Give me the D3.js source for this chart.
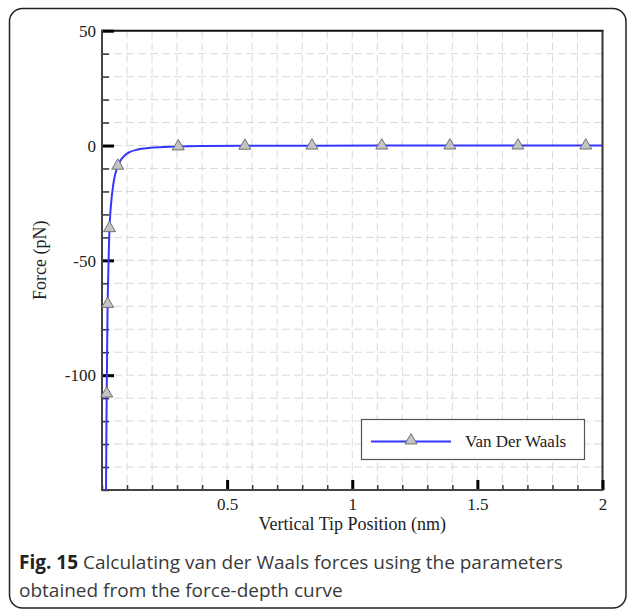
<!DOCTYPE html>
<html>
<head>
<meta charset="utf-8">
<script src="https://cdn.jsdelivr.net/npm/d3@7/dist/d3.min.js"></script>
<style>
  html, body { margin: 0; padding: 0; background: #fff; }
  svg { display: block; }
</style>
</head>
<body>
<script>
// Van der Waals force versus vertical tip position
const curveX = [0.0160, 0.0172, 0.0180, 0.0188, 0.0205, 0.0225, 0.0250, 0.0275, 0.0300, 0.0330,
                0.0370, 0.0420, 0.0480, 0.0550, 0.0630, 0.0750, 0.0900, 0.1100, 0.1400, 0.1700,
                0.2100, 0.2500, 0.3050, 0.4000, 0.5710, 0.8390, 1.1180, 1.3900, 1.6620, 1.9330, 2.0000];
const curveF = [-150, -132, -119, -108, -89, -69, -56, -45, -36, -30,
                -24.5, -19.5, -15, -11.6, -8.8, -6.3, -4.4, -2.9, -1.8, -1.25,
                -0.85, -0.6, -0.4, -0.22, -0.1, -0.05, -0.03, -0.02, -0.01, -0.01, -0.01];

// points carrying a triangle symbol
const markerX = [0.0188, 0.0225, 0.0300, 0.0630, 0.3050, 0.5710, 0.8390, 1.1180, 1.3900, 1.6620, 1.9330];
const markerF = [-108, -69, -36, -8.8, -0.4, -0.1, -0.05, -0.03, -0.02, -0.01, -0.01];

const xDomain = [0, 2];
const yDomain = [-150, 50];
const xMajorTicks = [0.5, 1, 1.5, 2];
const yMajorTicks = [50, 0, -50, -100];

const seriesName = "Van Der Waals";
const xTitle = "Vertical Tip Position (nm)";
const yTitle = "Force (pN)";
const captionBold = "Fig. 15";
const captionLines = ["Calculating van der Waals forces using the parameters",
                      "obtained from the force-depth curve"];

const W = 627, H = 609;
const plot = { left: 102, right: 602.5, top: 30.7, bottom: 490 };
const serif = "'Liberation Serif', 'Times New Roman', serif";

const svg = d3.select("body").append("svg")
  .attr("width", W).attr("height", H);

// outer rounded frame
svg.append("rect")
  .attr("x", 9.5).attr("y", 8.5)
  .attr("width", 626 - 9.5).attr("height", 608 - 8.5)
  .attr("rx", 13).attr("ry", 13)
  .attr("fill", "none").attr("stroke", "#222").attr("stroke-width", 1.5);

const x = d3.scaleLinear().domain(xDomain).range([plot.left, plot.right]);
const y = d3.scaleLinear().domain(yDomain).range([plot.bottom, plot.top]);

// dashed grid on every minor step
const grid = svg.append("g").attr("stroke", "#d9d9d9").attr("stroke-width", 1)
  .attr("stroke-dasharray", "8,4");
grid.selectAll("line.vx").data(x.ticks(20).filter(v => v > xDomain[0] && v < xDomain[1]))
  .join("line")
  .attr("x1", d => x(d)).attr("x2", d => x(d))
  .attr("y1", plot.top).attr("y2", plot.bottom);
grid.selectAll("line.hy").data(y.ticks(20).filter(v => v > yDomain[0] && v < yDomain[1]))
  .join("line")
  .attr("y1", d => y(d)).attr("y2", d => y(d))
  .attr("x1", plot.left).attr("x2", plot.right);

// plot border: top and right
svg.append("line").attr("x1", plot.left).attr("x2", plot.right + 1)
  .attr("y1", plot.top).attr("y2", plot.top)
  .attr("stroke", "#111").attr("stroke-width", 2);
svg.append("line").attr("x1", plot.right).attr("x2", plot.right)
  .attr("y1", plot.top).attr("y2", plot.bottom)
  .attr("stroke", "#333").attr("stroke-width", 2);

// minor ticks (inside)
const yMinor = svg.append("g").attr("transform", `translate(${plot.left},0)`)
  .call(d3.axisLeft(y).tickValues(y.ticks(20)).tickSize(-7).tickFormat(""));
yMinor.select(".domain").remove();
yMinor.selectAll(".tick line").attr("stroke", "#333").attr("stroke-width", 1.5);

const xMinor = svg.append("g").attr("transform", `translate(0,${plot.bottom})`)
  .call(d3.axisBottom(x).tickValues(x.ticks(20)).tickSize(-5).tickFormat(""));
xMinor.select(".domain").remove();
xMinor.selectAll(".tick line").attr("stroke", "#333").attr("stroke-width", 1.5);

// major ticks with labels
const yAxis = svg.append("g").attr("transform", `translate(${plot.left},0)`)
  .call(d3.axisLeft(y).tickValues(yMajorTicks).tickSize(-12).tickPadding(18)
    .tickFormat(d => String(d)));
yAxis.select(".domain").remove();
yAxis.selectAll(".tick line").attr("stroke", "#000").attr("stroke-width", 3);
yAxis.selectAll(".tick text")
  .attr("font-family", serif)
  .attr("font-size", 17).attr("fill", "#222")
  .attr("x", -6).attr("dy", "0.34em");

const xAxis = svg.append("g").attr("transform", `translate(0,${plot.bottom})`)
  .call(d3.axisBottom(x).tickValues(xMajorTicks).tickSize(-10).tickPadding(6)
    .tickFormat(d => String(d)));
xAxis.select(".domain").remove();
xAxis.selectAll(".tick line").attr("stroke", "#000").attr("stroke-width", 3);
xAxis.selectAll(".tick text")
  .attr("font-family", serif)
  .attr("font-size", 17).attr("fill", "#222")
  .attr("y", 8).attr("dy", "0.71em");

// left and bottom axis lines
svg.append("line").attr("x1", plot.left).attr("x2", plot.left)
  .attr("y1", plot.top - 1).attr("y2", plot.bottom + 1)
  .attr("stroke", "#444").attr("stroke-width", 2);
svg.append("line").attr("x1", plot.left - 1).attr("x2", plot.right + 1)
  .attr("y1", plot.bottom).attr("y2", plot.bottom)
  .attr("stroke", "#444").attr("stroke-width", 2);

// force curve
const pts = curveX.map((v, i) => [v, curveF[i]]);
const line = d3.line().x(d => x(d[0])).y(d => y(d[1])).curve(d3.curveMonotoneX);
const clipId = "plotClip";
svg.append("clipPath").attr("id", clipId).append("rect")
  .attr("x", plot.left).attr("y", plot.top)
  .attr("width", plot.right - plot.left).attr("height", plot.bottom - plot.top);
svg.append("path").datum(pts)
  .attr("clip-path", `url(#${clipId})`)
  .attr("d", line).attr("fill", "none")
  .attr("stroke", "#3535ff").attr("stroke-width", 2);

const tri = d3.symbol(d3.symbolTriangle).size(62);
svg.selectAll("path.mk").data(markerX.map((v, i) => [v, markerF[i]]))
  .join("path")
  .attr("transform", d => `translate(${x(d[0])},${y(d[1])})`)
  .attr("d", tri)
  .attr("fill", "#c4c4c4").attr("stroke", "#707070").attr("stroke-width", 1);

// legend
const lg = svg.append("g");
lg.append("rect").attr("x", 361.5).attr("y", 419.5).attr("width", 223).attr("height", 40)
  .attr("fill", "#fff").attr("stroke", "#555").attr("stroke-width", 1.2);
lg.append("line").attr("x1", 371).attr("x2", 451).attr("y1", 441.5).attr("y2", 441.5)
  .attr("stroke", "#3535ff").attr("stroke-width", 2);
lg.append("path").attr("transform", "translate(411,440.5)").attr("d", tri)
  .attr("fill", "#c4c4c4").attr("stroke", "#707070").attr("stroke-width", 1);
lg.append("text").attr("x", 465).attr("y", 447)
  .attr("font-family", serif)
  .attr("font-size", 17).attr("fill", "#222").text(seriesName);

// axis titles
svg.append("text").attr("x", (plot.left + plot.right) / 2).attr("y", 530)
  .attr("text-anchor", "middle")
  .attr("font-family", serif)
  .attr("font-size", 18).attr("fill", "#222").text(xTitle);
svg.append("text")
  .attr("transform", `translate(46,${(plot.top + plot.bottom) / 2}) rotate(-90)`)
  .attr("text-anchor", "middle")
  .attr("font-family", serif)
  .attr("font-size", 18).attr("fill", "#222").text(yTitle);

// caption
const cap = svg.append("g")
  .attr("font-family", "'Open Sans', 'Noto Sans', sans-serif")
  .attr("font-size", 19).attr("fill", "#3a3a3a");
const l1 = cap.append("text").attr("x", 19).attr("y", 569);
l1.append("tspan").attr("font-weight", "bold").attr("fill", "#222").text(captionBold);
l1.append("tspan").text(" " + captionLines[0]);
cap.append("text").attr("x", 19).attr("y", 597).text(captionLines[1]);
</script>
</body>
</html>
